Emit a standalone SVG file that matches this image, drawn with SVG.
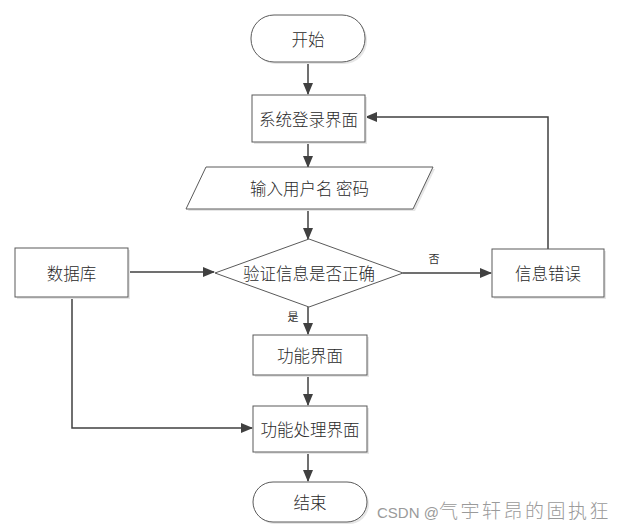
<svg xmlns="http://www.w3.org/2000/svg" width="623" height="532" viewBox="0 0 623 532">
<style>
.shape{fill:#ffffff;stroke:#5a5a5a;stroke-width:1}
.shadow{fill:#e6e6e6;stroke:none}
.t{font-family:"Noto Sans CJK SC","Noto Sans",sans-serif;font-size:16.5px;font-weight:300;fill:#2a2a2a;text-anchor:middle;dominant-baseline:central}
.lbl{font-family:"Noto Sans CJK SC",serif;font-size:11px;fill:#333;text-anchor:middle;dominant-baseline:central}
.c{fill:none;stroke:#404040;stroke-width:1.5}
.wm{font-family:"Liberation Sans","Noto Sans CJK SC",sans-serif;font-size:15px;fill:#9a9a9a}
.wmc{font-family:"Noto Sans CJK SC",sans-serif;font-size:19px;letter-spacing:2.5px;font-weight:300}
</style>
<defs>
<marker id="ah" markerWidth="12" markerHeight="10" refX="11" refY="5" orient="auto" markerUnits="userSpaceOnUse">
<path d="M0,0 L12,5 L0,10 Z" fill="#404040"/>
</marker>
</defs>
<rect width="623" height="532" fill="#ffffff"/>
<g id="connectors">
<line class="c" x1="308" y1="62" x2="308" y2="94" marker-end="url(#ah)"/>
<line class="c" x1="308" y1="142" x2="308" y2="167" marker-end="url(#ah)"/>
<line class="c" x1="308" y1="209" x2="308" y2="239" marker-end="url(#ah)"/>
<line class="c" x1="128" y1="272" x2="214" y2="272" marker-end="url(#ah)"/>
<line class="c" x1="403" y1="273" x2="491" y2="273" marker-end="url(#ah)"/>
<polyline class="c" points="548,249 548,117 366,117" marker-end="url(#ah)"/>
<line class="c" x1="308" y1="307" x2="308" y2="334" marker-end="url(#ah)"/>
<line class="c" x1="308" y1="375" x2="308" y2="405" marker-end="url(#ah)"/>
<polyline class="c" points="72,297 72,428 252,428" marker-end="url(#ah)"/>
<line class="c" x1="308" y1="452" x2="308" y2="481" marker-end="url(#ah)"/>
<text class="lbl" x="434" y="258">否</text>
<text class="lbl" x="293" y="316">是</text>
</g>
<g id="start">
<rect class="shadow" x="253" y="17" width="114" height="47" rx="23"/>
<rect class="shape" x="251" y="15" width="114" height="47" rx="23"/>
<text class="t" x="308" y="38.5">开始</text>
</g>
<g id="login">
<rect class="shadow" x="254" y="97" width="113" height="47"/>
<rect class="shape" x="252" y="95" width="113" height="47"/>
<text class="t" x="308.5" y="118.5">系统登录界面</text>
</g>
<g id="input">
<polygon class="shadow" points="208,169 435,169 415,211 188,211"/>
<polygon class="shape" points="206,167 433,167 413,209 186,209"/>
<text class="t" x="309.5" y="188">输入用户名 密码</text>
</g>
<g id="verify">
<polygon class="shape" points="309,239 403,273 309,307 215,273"/>
<text class="t" x="309" y="273">验证信息是否正确</text>
</g>
<g id="database">
<rect class="shadow" x="17" y="250" width="113" height="49"/>
<rect class="shape" x="15" y="248" width="113" height="49"/>
<text class="t" x="71.5" y="272.5">数据库</text>
</g>
<g id="error">
<rect class="shadow" x="494" y="251" width="112" height="48"/>
<rect class="shape" x="492" y="249" width="112" height="48"/>
<text class="t" x="548" y="273">信息错误</text>
</g>
<g id="func">
<rect class="shadow" x="255" y="337" width="114" height="40"/>
<rect class="shape" x="253" y="335" width="114" height="40"/>
<text class="t" x="310" y="355">功能界面</text>
</g>
<g id="funcproc">
<rect class="shadow" x="255" y="408" width="114" height="46"/>
<rect class="shape" x="253" y="406" width="114" height="46"/>
<text class="t" x="310" y="429">功能处理界面</text>
</g>
<g id="end">
<rect class="shadow" x="255" y="484" width="114" height="40" rx="20"/>
<rect class="shape" x="253" y="482" width="114" height="40" rx="20"/>
<text class="t" x="310" y="502">结束</text>
</g>
<text class="wm" x="377" y="518">CSDN @<tspan class="wmc">气宇轩昂的固执狂</tspan></text>
</svg>
